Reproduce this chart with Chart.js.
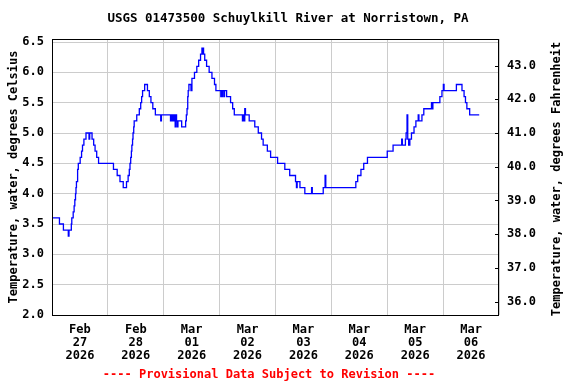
<!DOCTYPE html>
<html>
<head>
<meta charset="utf-8">
<script src="https://cdn.jsdelivr.net/npm/chart.js@4"></script>
<style>
  html, body { margin: 0; padding: 0; background: #fff; }
  #chart { display: block; }
</style>
</head>
<body>
<canvas id="chart" width="576" height="384"></canvas>
<script>
// hours since 2026-02-27 00:00, value changes (15-min gauge readings, stepped)
const hours = [
  0, 3.2, 4.9, 7.0, 7.3, 8.3, 8.5, 9.1, 9.5, 9.8, 10.1, 10.3, 10.5, 11.0, 11.3,
  12.1, 12.7, 13.1, 13.7, 14.6, 15.9, 16.2, 17.2, 17.9, 18.5, 19.2, 20.0,
  26.4, 28.0, 29.2, 30.6, 32.0, 32.7, 33.2, 33.5, 33.8, 34.1, 34.3, 34.6, 34.8,
  35.1, 35.3, 36.4, 37.5, 38.1, 38.5, 38.9, 39.8, 41.0, 41.8, 42.5, 43.3, 44.4,
  46.7, 47.0, 50.9, 51.2, 51.5, 51.8, 52.3, 52.6, 52.9, 53.2, 53.5, 53.8, 54.1,
  55.7, 57.4, 57.7, 58.0, 58.3, 58.5, 58.8, 59.7, 60.1, 61.2, 62.2, 63.0, 63.8,
  64.4, 64.7, 64.9, 65.1, 65.6, 66.4, 67.5, 68.7, 69.8, 70.4, 72.5, 72.7, 73.1,
  73.3, 73.9, 74.1, 75.0, 76.7, 77.6, 78.3, 81.8, 82.2, 82.5, 82.8, 83.1, 84.7,
  87.1, 88.6, 90.0, 90.7, 92.5, 93.9, 96.9, 100.0, 102.1, 104.6, 105.0, 105.3,
  106.5, 108.6, 111.5, 111.8, 116.5, 117.3, 117.6, 130.5, 131.3, 132.7, 133.9,
  135.5, 144.0, 146.5, 150.2, 150.5, 151.8, 152.1, 152.5, 152.8, 153.2, 153.7,
  154.4, 155.5, 156.3, 157.3, 157.6, 158.9, 159.7, 163.0, 163.3, 163.6, 166.6,
  167.5, 168.1, 168.4, 173.7, 176.1, 177.0, 177.6, 178.2, 179.4, 183.5
];
const tempC = [
  3.6, 3.5, 3.4, 3.3, 3.4, 3.5, 3.6, 3.7, 3.8, 3.9, 4.0, 4.1, 4.2, 4.4, 4.5,
  4.6, 4.7, 4.8, 4.9, 5.0, 4.9, 5.0, 4.9, 4.8, 4.7, 4.6, 4.5,
  4.4, 4.3, 4.2, 4.1, 4.2, 4.3, 4.4, 4.5, 4.6, 4.7, 4.8, 4.9, 5.0,
  5.1, 5.2, 5.3, 5.4, 5.5, 5.6, 5.7, 5.8, 5.7, 5.6, 5.5, 5.4, 5.3,
  5.2, 5.3, 5.2, 5.3, 5.2, 5.3, 5.2, 5.3, 5.1, 5.3, 5.2, 5.1, 5.2,
  5.1, 5.2, 5.3, 5.4, 5.6, 5.7, 5.8, 5.7, 5.9, 6.0, 6.1, 6.2, 6.3,
  6.4, 6.3, 6.4, 6.3, 6.2, 6.1, 6.0, 5.9, 5.8, 5.7, 5.6, 5.7, 5.6,
  5.7, 5.6, 5.7, 5.6, 5.5, 5.4, 5.3, 5.2, 5.3, 5.2, 5.4, 5.3, 5.2,
  5.1, 5.0, 4.9, 4.8, 4.7, 4.6, 4.5, 4.4, 4.3, 4.2, 4.1, 4.2,
  4.1, 4.0, 4.1, 4.0, 4.1, 4.3, 4.1, 4.2, 4.3, 4.4, 4.5,
  4.6, 4.7, 4.8, 4.9, 4.8, 4.9, 5.0, 5.3, 4.9, 4.8, 4.9,
  5.0, 5.1, 5.2, 5.3, 5.2, 5.3, 5.4, 5.5, 5.4, 5.5, 5.6,
  5.7, 5.8, 5.7, 5.8, 5.7, 5.6, 5.5, 5.4, 5.3, 5.3
];

const dayMonths = ['Feb', 'Feb', 'Mar', 'Mar', 'Mar', 'Mar', 'Mar', 'Mar'];
const dayNums = ['27', '28', '01', '02', '03', '04', '05', '06'];
const dayYear = '2026';
const celsiusTicks = [2.0, 2.5, 3.0, 3.5, 4.0, 4.5, 5.0, 5.5, 6.0, 6.5];
const fahrenheitTicks = [36, 37, 38, 39, 40, 41, 42, 43];

const TITLE = 'USGS 01473500 Schuylkill River at Norristown, PA';
const FOOTER = '---- Provisional Data Subject to Revision ----';
const RIGHT_TITLE = 'Temperature, water, degrees Fahrenheit';
const MONO = '"DejaVu Sans Mono", "Liberation Mono", monospace';

const C_MIN = 2.0, C_MAX = 6.55;
const toF = c => c * 1.8 + 32;

Chart.defaults.color = '#000';

// title, footer, frame, right-hand axis title (reads upward) and inward ticks
const decorations = {
  id: 'decorations',
  afterDraw(chart) {
    const { ctx, chartArea: a } = chart;
    ctx.save();
    ctx.strokeStyle = '#000';
    ctx.lineWidth = 1;
    ctx.strokeRect(a.left + 0.5, a.top + 0.5, a.right - a.left - 1, a.bottom - a.top);

    const y2 = chart.scales.y2;
    ctx.beginPath();
    y2.ticks.forEach(t => {
      const py = Math.round(y2.getPixelForValue(t.value)) + 0.5;
      ctx.moveTo(a.right - 4, py);
      ctx.lineTo(a.right, py);
    });
    ctx.stroke();

    ctx.textAlign = 'center';
    ctx.textBaseline = 'middle';
    ctx.fillStyle = '#000';
    ctx.font = 'bold 12.5px ' + MONO;
    ctx.fillText(TITLE, 288, 19);

    ctx.font = 'bold 12px ' + MONO;
    ctx.save();
    ctx.translate(557, (a.top + a.bottom) / 2 + 2);
    ctx.rotate(-Math.PI / 2);
    ctx.fillText(RIGHT_TITLE, 0, 0);
    ctx.restore();

    ctx.fillStyle = '#ff0000';
    ctx.fillText(FOOTER, 269, 375);
    ctx.restore();
  }
};

new Chart(document.getElementById('chart'), {
  type: 'line',
  data: {
    datasets: [{
      label: 'Temperature',
      data: hours.map((h, i) => ({ x: h, y: tempC[i] })),
      borderColor: '#0000ff',
      borderWidth: 1.3,
      pointRadius: 0,
      stepped: true,
      fill: false,
      yAxisID: 'y',
    }],
  },
  options: {
    responsive: false,
    animation: false,
    devicePixelRatio: 1,
    layout: { padding: { top: 39, left: 0, right: 0, bottom: 0 } },
    plugins: {
      legend: { display: false },
      tooltip: { enabled: false },
    },
    scales: {
      x: {
        type: 'linear',
        min: 0,
        max: 192,
        afterBuildTicks: s => { s.ticks = []; for (let v = 0; v <= 192; v += 12) s.ticks.push({ value: v }); },
        afterFit: s => { s.height = 69; },
        border: { display: false },
        grid: {
          color: c => (c.tick && c.tick.value % 24 === 0) ? '#cccccc' : 'rgba(0,0,0,0)',
          drawTicks: false,
        },
        ticks: {
          autoSkip: false,
          maxRotation: 0,
          padding: 8,
          font: { family: MONO, size: 12, weight: 'bold', lineHeight: 1.08 },
          callback: v => {
            if (v % 24 !== 12) return '';
            const i = (v - 12) / 24;
            return [dayMonths[i], dayNums[i], dayYear];
          },
        },
      },
      y: {
        position: 'left',
        min: C_MIN,
        max: C_MAX,
        afterBuildTicks: s => { s.ticks = celsiusTicks.map(v => ({ value: v })); },
        afterFit: s => { s.width = 52; },
        border: { display: false },
        grid: { color: '#cccccc', drawTicks: false },
        ticks: {
          padding: 8,
          font: { family: MONO, size: 12, weight: 'bold' },
          callback: v => v.toFixed(1),
        },
        title: {
          display: true,
          text: 'Temperature, water, degrees Celsius',
          font: { family: MONO, size: 12, weight: 'bold' },
          padding: { top: 7, bottom: 0 },
        },
      },
      y2: {
        position: 'right',
        min: toF(C_MIN),
        max: toF(C_MAX),
        afterBuildTicks: s => { s.ticks = fahrenheitTicks.map(v => ({ value: v })); },
        afterFit: s => { s.width = 77; },
        border: { display: false },
        grid: { drawOnChartArea: false, drawTicks: false },
        ticks: {
          padding: 8,
          font: { family: MONO, size: 12, weight: 'bold' },
          callback: v => v.toFixed(1),
        },
      },
    },
  },
  plugins: [decorations],
});
</script>
</body>
</html>
